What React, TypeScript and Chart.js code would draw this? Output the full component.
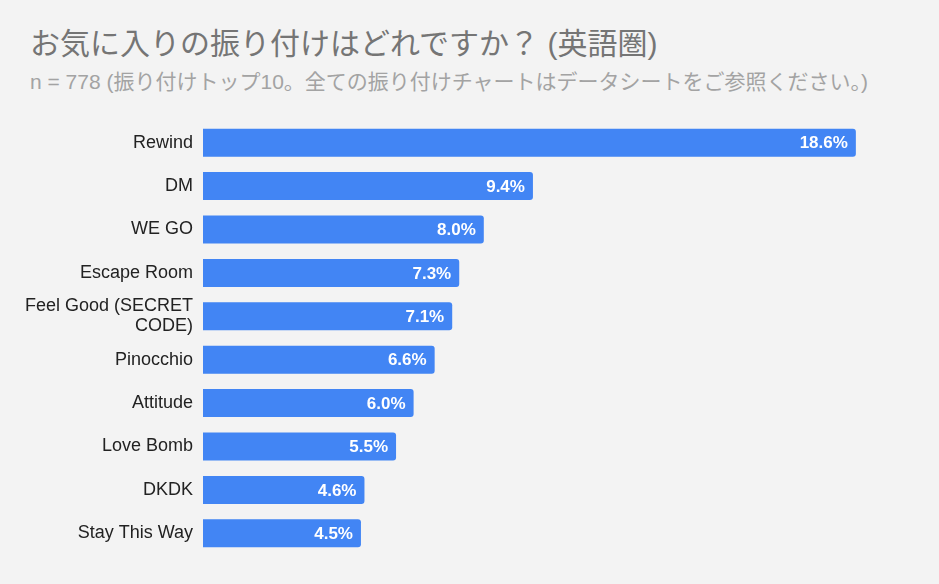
import React, { useEffect, useRef } from 'react';
import { Chart, registerables, Plugin } from 'chart.js';

Chart.register(...registerables);

const categories: (string | string[])[] = [
  'Rewind',
  'DM',
  'WE GO',
  'Escape Room',
  ['Feel Good (SECRET', 'CODE)'],
  'Pinocchio',
  'Attitude',
  'Love Bomb',
  'DKDK',
  'Stay This Way',
];

const shares = [18.6, 9.4, 8.0, 7.3, 7.1, 6.6, 6.0, 5.5, 4.6, 4.5];

const title = 'お気に入りの振り付けはどれですか？ (英語圏)';
const subtitle =
  'n = 778 (振り付けトップ10。全ての振り付けチャートはデータシートをご参照ください。)';

// draws the white percentage inside the end of each bar
const valueLabels: Plugin<'bar'> = {
  id: 'valueLabels',
  afterDatasetsDraw(chart) {
    const ctx = chart.ctx;
    const meta = chart.getDatasetMeta(0);
    ctx.save();
    ctx.fillStyle = '#ffffff';
    ctx.font = 'bold 17px Arial, "Liberation Sans", sans-serif';
    ctx.textAlign = 'right';
    ctx.textBaseline = 'middle';
    meta.data.forEach((bar, i) => {
      const v = chart.data.datasets[0].data[i] as number;
      ctx.fillText(v.toFixed(1) + '%', bar.x - 8, bar.y + 1);
    });
    ctx.restore();
  },
};

const App: React.FC = () => {
  const canvasRef = useRef<HTMLCanvasElement>(null);
  const chartRef = useRef<Chart | null>(null);

  useEffect(() => {
    if (!canvasRef.current) return;
    if (chartRef.current) chartRef.current.destroy();

    chartRef.current = new Chart(canvasRef.current, {
      type: 'bar',
      data: {
        labels: categories,
        datasets: [
          {
            data: shares,
            backgroundColor: '#4285f4',
            borderRadius: { topLeft: 0, bottomLeft: 0, topRight: 3, bottomRight: 3 },
            borderSkipped: false,
            barPercentage: 0.645,
            categoryPercentage: 1,
          },
        ],
      },
      options: {
        indexAxis: 'y',
        animation: false,
        responsive: false,
        maintainAspectRatio: false,
        layout: { padding: { top: 121, bottom: 29, left: 0, right: 34 } },
        plugins: {
          legend: { display: false },
          tooltip: { enabled: false },
        },
        scales: {
          x: {
            display: false,
            min: 0,
            max: 20,
          },
          y: {
            grid: { display: false, drawTicks: false },
            border: { display: false },
            ticks: {
              autoSkip: false,
              color: '#222222',
              padding: 10,
              font: { family: 'Arial, "Liberation Sans", sans-serif', size: 18, lineHeight: 1.1 },
            },
            afterFit(axis) {
              axis.width = 203;
            },
          },
        },
      },
      plugins: [valueLabels],
    });

    return () => {
      if (chartRef.current) {
        chartRef.current.destroy();
        chartRef.current = null;
      }
    };
  }, []);

  return (
    <div
      style={{
        position: 'absolute',
        top: 0,
        left: 0,
        width: 939,
        height: 584,
        background: '#f3f3f3',
        overflow: 'hidden',
      }}
    >
      <div
        style={{
          position: 'absolute',
          left: 30,
          top: 29,
          fontSize: 30,
          lineHeight: '30px',
          color: '#757575',
          fontFamily: 'Arial, "Liberation Sans", "Noto Sans CJK JP", sans-serif',
          whiteSpace: 'nowrap',
        }}
      >
        {title}
      </div>
      <div
        style={{
          position: 'absolute',
          left: 30,
          top: 71,
          fontSize: 21,
          lineHeight: '21px',
          color: '#a3a3a3',
          fontFamily: 'Arial, "Liberation Sans", "Noto Sans CJK JP", sans-serif',
          whiteSpace: 'nowrap',
        }}
      >
        {subtitle}
      </div>
      <canvas
        ref={canvasRef}
        width={939}
        height={584}
        style={{ position: 'absolute', top: 0, left: 0, width: 939, height: 584 }}
      />
    </div>
  );
};

export default App;
